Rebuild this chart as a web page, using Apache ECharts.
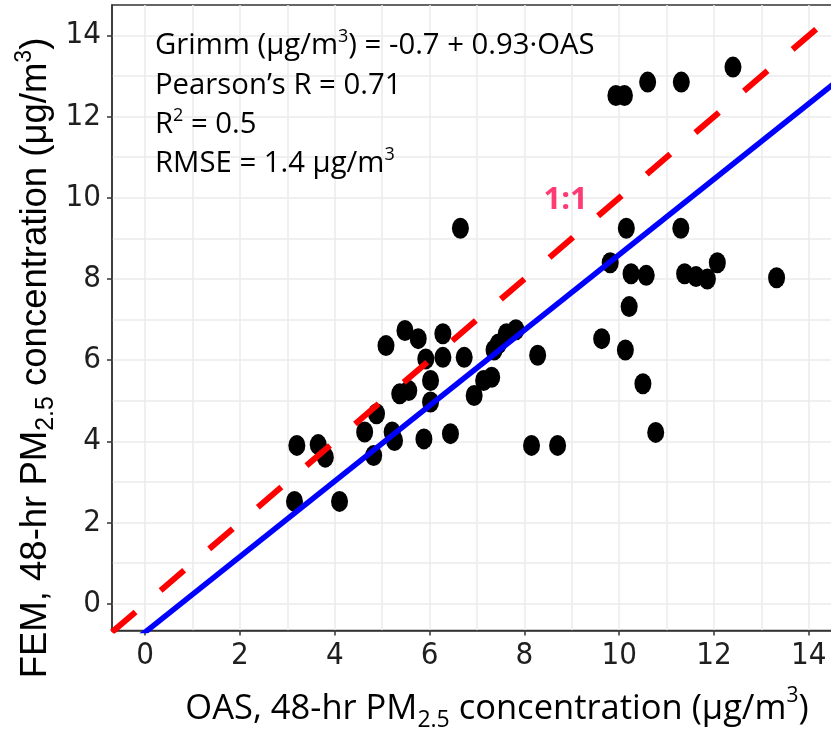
<!DOCTYPE html>
<html>
<head>
<meta charset="utf-8">
<script src="https://cdn.jsdelivr.net/npm/echarts@6/dist/echarts.min.js"></script>
<style>
html,body{margin:0;padding:0;background:#ffffff;overflow:hidden;width:831px;height:731px;}
#chart{width:842px;height:731px;}
</style>
</head>
<body>
<div id="chart"></div>
<script>
// ---- data ----
const oasValues = [3.15, 4.10, 3.20, 3.65, 3.80, 4.82, 4.63, 4.88, 5.21, 5.26,
                   5.88, 6.44, 5.37, 5.56, 6.02, 6.02, 6.94, 7.14, 7.31, 5.08,
                   5.48, 5.76, 6.28, 5.92, 6.28, 6.73, 7.36, 7.45, 7.62, 7.82,
                   8.28, 8.15, 8.70, 6.65, 9.63, 10.13, 10.50, 10.77, 10.21, 9.81,
                   10.25, 10.57, 11.38, 11.62, 11.86, 12.07, 13.32, 10.15, 11.30, 9.93,
                   10.11, 10.60, 11.31, 12.40];
const femValues = [2.52, 2.52, 3.90, 3.92, 3.61, 3.65, 4.23, 4.68, 4.23, 4.02,
                   4.06, 4.19, 5.17, 5.25, 4.97, 5.50, 5.13, 5.50, 5.58, 6.36,
                   6.73, 6.53, 6.65, 6.03, 6.07, 6.07, 6.25, 6.40, 6.65, 6.75,
                   6.12, 3.90, 3.90, 9.25, 6.53, 6.25, 5.42, 4.22, 7.32, 8.40,
                   8.13, 8.09, 8.13, 8.06, 8.00, 8.40, 8.03, 9.25, 9.25, 12.52,
                   12.52, 12.85, 12.85, 13.22];
const lineX = [-0.7, 14.7];
const fitY = [-1.351, 12.971];      // Grimm = -0.7 + 0.93*OAS
const identityY = [-0.7, 14.7];     // 1:1
const xTicks = [0, 2, 4, 6, 8, 10, 12, 14];
const yTicks = [0, 2, 4, 6, 8, 10, 12, 14];
const xRange = [-0.7, 14.7];
const yRange = [-0.66, 14.75];
const oneToOneLabelAt = [8.87, 9.93];

const scatterData = oasValues.map((v, i) => [v, femValues[i]]);
const fitData = lineX.map((v, i) => [v, fitY[i]]);
const identityData = lineX.map((v, i) => [v, identityY[i]]);

// pick a narrow sans for tick labels if one is installed
function hasFont(name) {
  const c = document.createElement('canvas').getContext('2d');
  const s = 'mmmmmmmmmmlli1234567890WQ';
  c.font = '72px monospace'; const w1 = c.measureText(s).width;
  c.font = '72px "' + name + '", monospace'; const w2 = c.measureText(s).width;
  c.font = '72px serif'; const w3 = c.measureText(s).width;
  c.font = '72px "' + name + '", serif'; const w4 = c.measureText(s).width;
  return w1 !== w2 || w3 !== w4;
}
let tickFont = 'Liberation Sans';
let tickSize = 30;
if (hasFont('Liberation Sans Narrow')) { tickFont = 'Liberation Sans Narrow'; tickSize = 35; }
else if (hasFont('DejaVu Sans Condensed')) { tickFont = 'DejaVu Sans Condensed'; tickSize = 31; }

const gridColor = '#ebebeb';
const titleFont = 'Liberation Sans';
const textFont = 'Open Sans';

function axisCommon(ticks, range) {
  return {
    type: 'value',
    min: range[0],
    max: range[1],
    splitNumber: 8,
    minInterval: 2,
    maxInterval: 2,
    axisLine: {show: true, onZero: false, lineStyle: {color: '#333333', width: 1.5}},
    axisTick: {show: true, length: 5, customValues: ticks, lineStyle: {color: '#333333', width: 1.5}},
    axisLabel: {
      show: true,
      customValues: ticks,
      color: '#1f1f1f',
      fontFamily: tickFont,
      fontSize: tickSize,
      formatter: v => ticks.includes(v) ? String(v) : ''
    },
    splitLine: {show: true, lineStyle: {color: gridColor, width: 1.5}},
    minorTick: {show: false, splitNumber: 2},
    minorSplitLine: {show: true, lineStyle: {color: gridColor, width: 1.5}}
  };
}

const xAxis = axisCommon(xTicks, xRange);
xAxis.axisLabel.margin = 10;
const yAxis = axisCommon(yTicks, yRange);
yAxis.axisLabel.margin = 11;

const annoRich = {
  a: {fontFamily: textFont, fontSize: 29.3, color: '#111111', lineHeight: 36},
  s: {fontFamily: textFont, fontSize: 18, color: '#111111', lineHeight: 17, verticalAlign: 'top'}
};
const titleRich = {
  a: {fontFamily: textFont, fontSize: 34.5, color: '#111111', lineHeight: 46},
  sub: {fontFamily: textFont, fontSize: 23, color: '#111111', lineHeight: 18, verticalAlign: 'bottom'},
  sup: {fontFamily: textFont, fontSize: 21, color: '#111111', lineHeight: 21, verticalAlign: 'top'}
};
const yTitleRich = {
  a: {fontFamily: titleFont, fontSize: 36.5, color: '#111111', lineHeight: 46},
  sub: {fontFamily: titleFont, fontSize: 25, color: '#111111', lineHeight: 18, verticalAlign: 'bottom'},
  sup: {fontFamily: titleFont, fontSize: 23, color: '#111111', lineHeight: 22, verticalAlign: 'top'}
};

const annotationLines = [
  '{a|Grimm (μg/m}{s|3}{a|) = -0.7 + 0.93·OAS}',
  '{a|Pearson’s R = 0.71}',
  '{a|R}{s|2}{a| = 0.5}',
  '{a|RMSE = 1.4 μg/m}{s|3}'
];

const graphics = annotationLines.map((t, i) => ({
  type: 'text',
  x: 155,
  y: 46 + i * 39.3,
  z: 100,
  style: {text: t, rich: annoRich, align: 'left', verticalAlign: 'middle'}
}));
graphics.push({
  type: 'text', x: 497, y: 709, z: 100,
  style: {
    text: '{a|OAS, 48-hr PM}{sub|2.5}{a| concentration (μg/m}{sup|3}{a|)}',
    rich: titleRich, align: 'center', verticalAlign: 'middle'
  }
});
graphics.push({
  type: 'text', x: 36, y: 358, z: 100, rotation: Math.PI / 2,
  style: {
    text: '{a|FEM, 48-hr PM}{sub|2.5}{a| concentration (μg/m}{sup|3}{a|)}',
    rich: yTitleRich, align: 'center', verticalAlign: 'middle'
  }
});

const option = {
  animation: false,
  backgroundColor: '#ffffff',
  grid: {left: 112, top: 5, bottom: 100.5, right: 0, show: true, borderColor: '#333333', borderWidth: 1.5, containLabel: false},
  xAxis: xAxis,
  yAxis: yAxis,
  series: [
    {
      type: 'scatter',
      data: scatterData,
      symbol: 'circle',
      symbolSize: [17, 21],
      itemStyle: {color: '#000000', opacity: 1},
      z: 2
    },
    {
      type: 'line',
      data: identityData,
      showSymbol: false,
      symbol: 'none',
      lineStyle: {color: '#ff0000', width: 6, type: [31, 33], cap: 'butt'},
      z: 3
    },
    {
      type: 'line',
      data: fitData,
      showSymbol: false,
      symbol: 'none',
      lineStyle: {color: '#0000ff', width: 5.5},
      z: 4
    },
    {
      type: 'scatter',
      data: [oneToOneLabelAt],
      symbolSize: 0,
      silent: true,
      label: {
        show: true, position: 'inside', formatter: '1:1',
        color: '#ff0a50', fontFamily: textFont, fontWeight: 'bold', fontSize: 31
      },
      z: 5
    }
  ],
  graphic: graphics
};

const chart = echarts.init(document.getElementById('chart'), null, {renderer: 'canvas'});
chart.setOption(option);
</script>
</body>
</html>
